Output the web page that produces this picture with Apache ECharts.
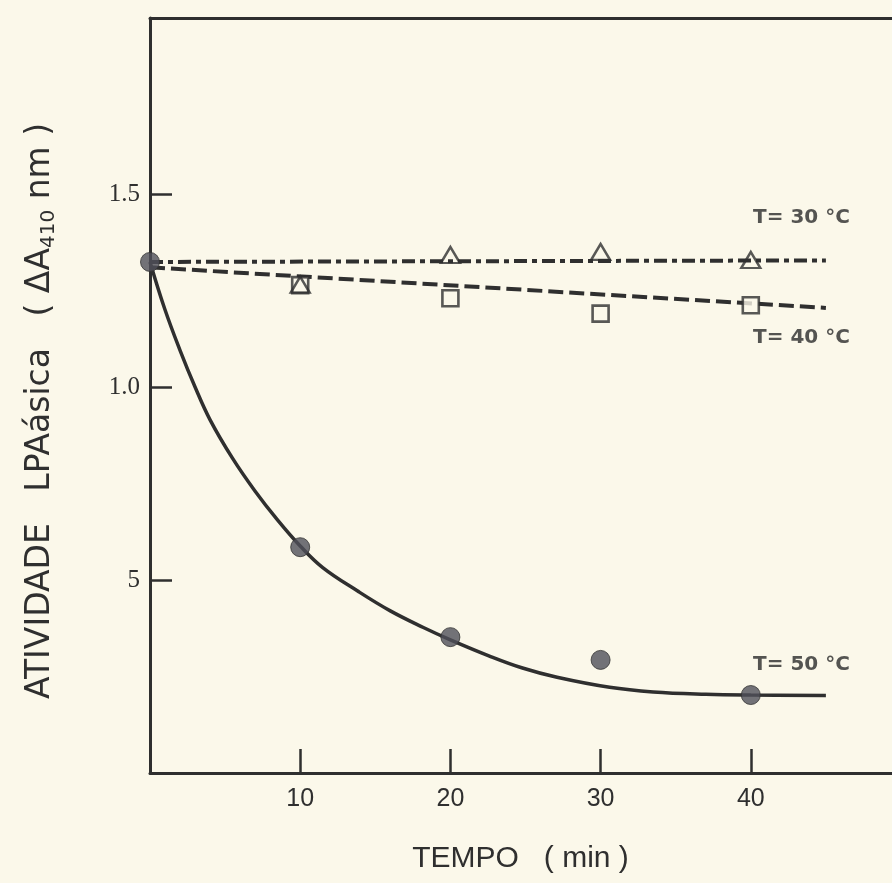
<!DOCTYPE html>
<html>
<head>
<meta charset="utf-8">
<script src="https://cdn.jsdelivr.net/npm/echarts@6/dist/echarts.min.js"></script>
<style>
  html, body { margin: 0; padding: 0; background: #fbf8ea; }
  #chart { width: 892px; height: 883px; }
</style>
</head>
<body>
<div id="chart"></div>
<script>
// dados (tempo em min, atividade em ΔA410)
var tempos = [0, 10, 20, 30, 40];
var t50 = [1.324, 0.585, 0.352, 0.293, 0.202];
var t40 = [null, 1.264, 1.23, 1.19, 1.212];
var t30 = [null, 1.265, 1.342, 1.35, 1.329];

// curva ajustada (50 °C), lida ponto a ponto
var curvaT = [0, 1, 2, 3, 4, 5.5, 7, 8.5, 10, 11.5, 13.8, 16, 18.2, 20, 22.6, 24.8, 27.1, 30.6, 33.5, 37, 40, 45];
var curvaV = [1.324, 1.2, 1.095, 1.0, 0.915, 0.815, 0.73, 0.655, 0.588, 0.532, 0.472, 0.42, 0.377, 0.345, 0.303, 0.272, 0.248, 0.222, 0.21, 0.204, 0.202, 0.201];

// retas tracejadas (30 °C e 40 °C)
var retaT = [0, 45];
var reta30 = [1.324, 1.328];
var reta40 = [1.31, 1.205];

// rótulos das curvas
var rotulos = ['T= 30 °C', 'T= 40 °C', 'T= 50 °C'];
var rotuloT = [40.15, 40.15, 40.15];
var rotuloV = [1.438, 1.127, 0.28];

var yTicks = {0.5: '5', 1: '1.0', 1.5: '1.5'};
var xTicks = {10: '10', 20: '20', 30: '30', 40: '40'};

function pares(xs, ys) {
  var out = [];
  for (var i = 0; i < xs.length; i++) {
    if (ys[i] != null) out.push([xs[i], ys[i]]);
  }
  return out;
}

var tinta = '#2f2f2f';
var fundo = '#fbf8ea';

var myChart = echarts.init(document.getElementById('chart'));
var option = {
  backgroundColor: fundo,
  animation: false,
  grid: { left: 150, top: 18, width: 751, bottom: 110, outerBoundsMode: 'none' },
  xAxis: [
    {
      type: 'value', min: 0, max: 50, interval: 10,
      name: 'TEMPO   ( min )', nameLocation: 'middle', nameGap: 71,
      nameTextStyle: { fontFamily: 'Liberation Sans', fontSize: 30, color: tinta, padding: [0, 0, 0, -10] },
      axisLine: { show: true, lineStyle: { color: tinta, width: 3 } },
      axisTick: { show: true, inside: true, length: 24, lineStyle: { color: tinta, width: 2.5 } },
      axisLabel: {
        margin: 14, fontFamily: 'Liberation Sans', fontSize: 25, color: tinta,
        formatter: function (v) { return xTicks[v] || ''; }
      },
      splitLine: { show: false }
    },
    {
      type: 'value', min: 0, max: 50, position: 'top',
      axisLine: { show: true, lineStyle: { color: tinta, width: 3 } },
      axisTick: { show: false }, axisLabel: { show: false }, splitLine: { show: false }
    }
  ],
  yAxis: {
    type: 'value', min: 0, max: 1.956, interval: 0.5,
    axisLine: { show: true, lineStyle: { color: tinta, width: 3 } },
    axisTick: { show: true, inside: true, length: 22, lineStyle: { color: tinta, width: 2.5 } },
    axisLabel: {
      margin: 10, fontFamily: 'Liberation Serif', fontSize: 25, color: tinta,
      formatter: function (v) { return yTicks[v] || ''; }
    },
    splitLine: { show: false }
  },
  graphic: [
    {
      type: 'text', x: 40, y: 411, rotation: Math.PI / 2,
      style: {
        text: '{a|ATIVIDADE   LPAásica   ( ΔA}{s|410}{a| nm )}',
        align: 'center', verticalAlign: 'middle',
        rich: {
          a: { fontFamily: 'DejaVu Sans', fontSize: 33, fill: tinta },
          s: { fontFamily: 'DejaVu Sans', fontSize: 20, fill: tinta, padding: [17, 0, 0, 0] }
        }
      }
    }
  ],
  series: [
    {
      name: 'reta 30', type: 'line', showSymbol: false, z: 2,
      data: pares(retaT, reta30),
      lineStyle: { color: tinta, width: 4, type: [13, 5, 5, 5] }
    },
    {
      name: 'reta 40', type: 'line', showSymbol: false, z: 2,
      data: pares(retaT, reta40),
      lineStyle: { color: tinta, width: 4, type: [15, 6] }
    },
    {
      name: 'curva 50', type: 'line', showSymbol: false, smooth: 0.4, z: 2,
      data: pares(curvaT, curvaV),
      lineStyle: { color: tinta, width: 3.5 }
    },
    {
      name: 'T=40', type: 'scatter', symbol: 'rect', symbolSize: 16, z: 3,
      data: pares(tempos, t40),
      itemStyle: { color: fundo, borderColor: tinta, borderWidth: 2.6 }
    },
    {
      name: 'T=30', type: 'scatter', symbol: 'triangle', symbolSize: [19, 16], z: 4,
      data: pares(tempos, t30),
      itemStyle: { color: 'rgba(0,0,0,0)', borderColor: tinta, borderWidth: 2.4 }
    },
    {
      name: 'T=50', type: 'scatter', symbol: 'circle', symbolSize: 19, z: 5,
      data: pares(tempos, t50),
      itemStyle: { color: '#50505a', borderColor: '#333', borderWidth: 1 }
    },
    {
      name: 'rótulos', type: 'scatter', symbolSize: 0, z: 6,
      data: rotulos.map(function (r, i) { return { value: [rotuloT[i], rotuloV[i]], name: r }; }),
      label: {
        show: true, position: 'right', distance: 0,
        formatter: function (p) { return p.name; },
        fontFamily: 'DejaVu Sans', fontWeight: 'bold', fontSize: 20, color: '#2a2a2a'
      }
    }
  ]
};
myChart.setOption(option);
</script>
</body>
</html>
